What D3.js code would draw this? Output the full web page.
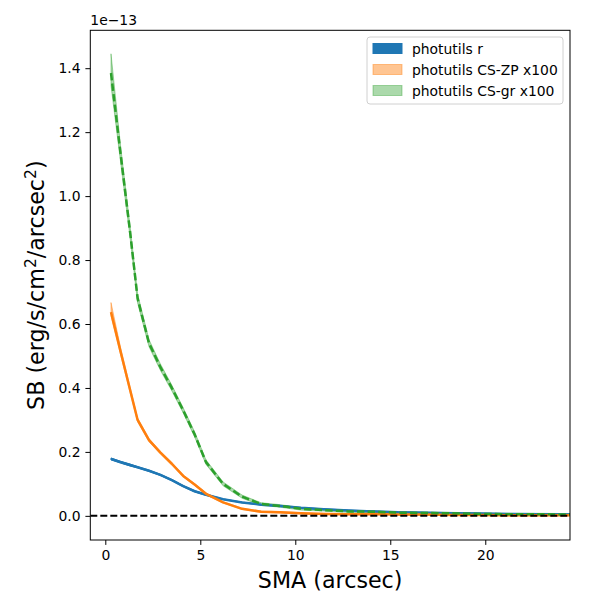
<!DOCTYPE html>
<html>
<head>
<meta charset="utf-8">
<script src="https://cdn.jsdelivr.net/npm/d3@7"></script>
<style>
  body { margin: 0; background: #fff; }
  text { font-family: "DejaVu Sans", sans-serif; }
</style>
</head>
<body>
<div id="chart"></div>
<script>
// SMA grid (arcsec) and surface brightness (units of 1e-13)
const sma = [0.3, 0.8, 1.3, 1.7, 2.3, 2.9, 3.5, 4.1, 4.7, 5.3, 6.2, 7.2, 8.2, 9.2, 10.3, 11.5, 12.8, 14.1, 15.4, 16.8, 18.2, 19.7, 21.2, 22.8, 24.5];

const sbR = [0.178, 0.168, 0.159, 0.152, 0.141, 0.128, 0.112, 0.093, 0.077, 0.066, 0.052, 0.042, 0.035, 0.031, 0.025, 0.021, 0.017, 0.014, 0.011, 0.010, 0.008, 0.007, 0.006, 0.005, 0.004];
const sbZP = [0.637, 0.515, 0.395, 0.300, 0.237, 0.198, 0.163, 0.125, 0.098, 0.069, 0.042, 0.022, 0.013, 0.011, 0.008, 0.006, 0.005, 0.006, 0.004, 0.004, 0.003, 0.003, 0.002, 0.002, 0.002];
const sbGR = [1.385, 1.134, 0.890, 0.680, 0.540, 0.465, 0.400, 0.330, 0.255, 0.168, 0.100, 0.060, 0.037, 0.031, 0.022, 0.018, 0.014, 0.013, 0.010, 0.009, 0.008, 0.006, 0.005, 0.005, 0.004];

// band half-widths (upper / lower)
const errR = [0.003, 0.003, 0.003, 0.002, 0.002, 0.002, 0.002, 0.002, 0.002, 0.002, 0.001, 0.001, 0.001, 0.001, 0.001, 0.001, 0.001, 0.001, 0.001, 0.001, 0.001, 0.001, 0.001, 0.001, 0.001];
const errZPHi = [0.030, 0.012, 0.008, 0.006, 0.005, 0.004, 0.004, 0.003, 0.003, 0.003, 0.002, 0.002, 0.002, 0.002, 0.002, 0.002, 0.002, 0.002, 0.002, 0.002, 0.002, 0.002, 0.002, 0.002, 0.002];
const errZPLo = [0.012, 0.010, 0.008, 0.006, 0.005, 0.004, 0.004, 0.003, 0.003, 0.003, 0.002, 0.002, 0.002, 0.002, 0.002, 0.002, 0.002, 0.002, 0.002, 0.002, 0.002, 0.002, 0.002, 0.002, 0.002];
const errGRHi = [0.060, 0.025, 0.018, 0.014, 0.011, 0.010, 0.009, 0.008, 0.008, 0.007, 0.006, 0.005, 0.004, 0.004, 0.004, 0.003, 0.003, 0.003, 0.003, 0.003, 0.003, 0.003, 0.003, 0.003, 0.003];
const errGRLo = [0.040, 0.025, 0.018, 0.014, 0.011, 0.010, 0.009, 0.008, 0.008, 0.007, 0.006, 0.005, 0.004, 0.004, 0.004, 0.003, 0.003, 0.003, 0.003, 0.003, 0.003, 0.003, 0.003, 0.003, 0.003];

const xTicks = [0, 5, 10, 15, 20];
const yTicks = [0.0, 0.2, 0.4, 0.6, 0.8, 1.0, 1.2, 1.4];
const legendLabels = ["photutils r", "photutils CS-ZP x100", "photutils CS-gr x100"];

const width = 600, height = 600;
const margin = { left: 90.3, right: 30, top: 30.3, bottom: 60 };

const svg = d3.select("#chart").append("svg")
    .attr("width", width)
    .attr("height", height);

const x = d3.scaleLinear()
    .domain([-0.79, 24.46])
    .range([margin.left, width - margin.right]);

const y = d3.scaleLinear()
    .domain([-0.0755, 1.5185])
    .range([height - margin.bottom, margin.top]);

svg.append("defs").append("clipPath").attr("id", "clip")
    .append("rect")
    .attr("x", margin.left).attr("y", margin.top)
    .attr("width", width - margin.right - margin.left)
    .attr("height", height - margin.bottom - margin.top);

const plot = svg.append("g").attr("clip-path", "url(#clip)");

const series = [
    { vals: sbR, hi: errR, lo: errR, color: "#1f77b4", band: "#1f77b4", bandOpacity: 1, dash: null },
    { vals: sbZP, hi: errZPHi, lo: errZPLo, color: "#ff7f0e", band: "#ff7f0e", bandOpacity: 0.45, dash: null },
    { vals: sbGR, hi: errGRHi, lo: errGRLo, color: "#2ca02c", band: "#2ca02c", bandOpacity: 0.4, dash: "7.4,3.2" }
];

// bands first
series.forEach(s => {
    const area = d3.area()
        .x((d, i) => x(sma[i]))
        .y0((d, i) => y(d - s.lo[i]))
        .y1((d, i) => y(d + s.hi[i]));
    plot.append("path")
        .datum(s.vals)
        .attr("d", area)
        .attr("fill", s.band)
        .attr("fill-opacity", s.bandOpacity)
        .attr("stroke", s.band)
        .attr("stroke-opacity", s.bandOpacity)
        .attr("stroke-width", 1);
});

// lines
series.forEach(s => {
    const line = d3.line()
        .x((d, i) => x(sma[i]))
        .y(d => y(d));
    plot.append("path")
        .datum(s.vals)
        .attr("d", line)
        .attr("fill", "none")
        .attr("stroke", s.color)
        .attr("stroke-width", 2.5)
        .attr("stroke-linejoin", "round")
        .attr("stroke-dasharray", s.dash);
});

// zero line, drawn on top
plot.append("line")
    .attr("x1", margin.left).attr("x2", width - margin.right)
    .attr("y1", y(0)).attr("y2", y(0))
    .attr("stroke", "black")
    .attr("stroke-width", 2)
    .attr("stroke-dasharray", "7,3");

// axes
const xAxis = svg.append("g")
    .attr("transform", `translate(0,${height - margin.bottom})`)
    .call(d3.axisBottom(x).tickValues(xTicks).tickSize(4.9).tickPadding(4.9).tickFormat(d3.format("d")));
const yAxis = svg.append("g")
    .attr("transform", `translate(${margin.left},0)`)
    .call(d3.axisLeft(y).tickValues(yTicks).tickSize(4.9).tickPadding(4.9).tickFormat(d3.format(".1f")));

[xAxis, yAxis].forEach(a => {
    a.select(".domain").remove();
    a.selectAll("text").attr("font-size", 13.9).attr("font-family", "DejaVu Sans").attr("fill", "black");
    a.selectAll("line").attr("stroke", "black").attr("stroke-width", 1);
});

// frame
svg.append("rect")
    .attr("x", margin.left).attr("y", margin.top)
    .attr("width", width - margin.right - margin.left)
    .attr("height", height - margin.bottom - margin.top)
    .attr("fill", "none")
    .attr("stroke", "black")
    .attr("stroke-width", 1);

// offset text
svg.append("text")
    .attr("x", margin.left)
    .attr("y", margin.top - 5)
    .attr("font-size", 13.9)
    .text("1e\u221213");

// axis labels
svg.append("text")
    .attr("x", (margin.left + width - margin.right) / 2)
    .attr("y", 588)
    .attr("text-anchor", "middle")
    .attr("font-size", 22.2)
    .text("SMA (arcsec)");

const yl = svg.append("text")
    .attr("transform", `translate(44,${(margin.top + height - margin.bottom) / 2}) rotate(-90)`)
    .attr("text-anchor", "middle")
    .attr("font-size", 22.2);
yl.append("tspan").text("SB (erg/s/cm");
yl.append("tspan").attr("font-size", 15.5).attr("dy", -8).text("2");
yl.append("tspan").attr("dy", 8).text("/arcsec");
yl.append("tspan").attr("font-size", 15.5).attr("dy", -8).text("2");
yl.append("tspan").attr("dy", 8).text(")");

// legend
const lg = svg.append("g").attr("transform", "translate(367,37)");
lg.append("rect")
    .attr("width", 196).attr("height", 67)
    .attr("rx", 3)
    .attr("fill", "white").attr("fill-opacity", 0.8)
    .attr("stroke", "#d0d0d0");
legendLabels.forEach((lab, i) => {
    const s = series[i];
    lg.append("rect")
        .attr("x", 6).attr("y", 6.5 + i * 21)
        .attr("width", 29).attr("height", 10)
        .attr("fill", s.band)
        .attr("fill-opacity", s.bandOpacity)
        .attr("stroke", s.band)
        .attr("stroke-opacity", s.bandOpacity);
    lg.append("text")
        .attr("x", 45).attr("y", 16.5 + i * 21)
        .attr("font-size", 13.9)
        .text(lab);
});
</script>
</body>
</html>
